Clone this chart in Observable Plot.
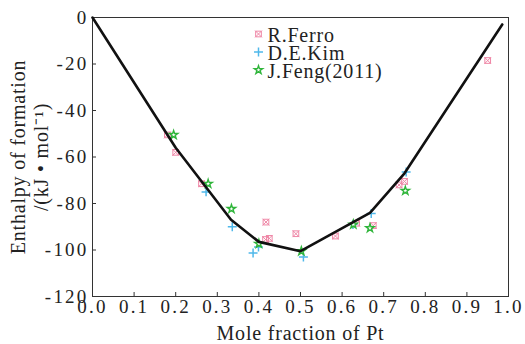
<!DOCTYPE html>
<html><head><meta charset="utf-8">
<script src="https://cdn.jsdelivr.net/npm/d3@7"></script>
<script src="https://cdn.jsdelivr.net/npm/@observablehq/plot@0.6"></script>
<style>
body{margin:0;background:#fff}
#chart svg, #chart svg text{font-family:"Liberation Serif","Times New Roman",serif !important}
#chart svg [aria-label="x-axis tick label"] text, #chart svg [aria-label="y-axis tick label"] text{letter-spacing:2.2px}
#chart svg .lbl text{letter-spacing:0.8px}
</style>
</head><body><div id="chart"></div>
<script>
// Calculated curve
const fitX = [0, 0.2, 0.333, 0.4, 0.5, 0.667, 0.75, 0.985];
const fitY = [0, -56, -87, -96.5, -100.5, -84, -67, -3];
// R.Ferro
const ferroX = [0.18, 0.2, 0.262, 0.417, 0.416, 0.425, 0.489, 0.584, 0.635, 0.675, 0.737, 0.75, 0.95];
const ferroY = [-50.5, -58, -71.5, -88, -95.5, -95, -93, -94, -88.5, -89.5, -72, -70.5, -18.5];
// D.E.Kim
const kimX = [0.273, 0.336, 0.386, 0.399, 0.507, 0.626, 0.67, 0.754];
const kimY = [-75, -90, -101.3, -98.7, -103, -89, -84.3, -66.5];
// J.Feng(2011)
const fengX = [0.195, 0.278, 0.334, 0.4, 0.502, 0.627, 0.667, 0.752];
const fengY = [-50.5, -71.5, -82.3, -97.3, -100.5, -89, -90.6, -74.5];
const seriesNames = ["R.Ferro", "D.E.Kim", "J.Feng(2011)"];
const xTicks = [0, 0.1, 0.2, 0.3, 0.4, 0.5, 0.6, 0.7, 0.8, 0.9, 1.0];
const yTicks = [0, -20, -40, -60, -80, -100, -120];
const xLabel = "Mole fraction of Pt";
const yLabel = "Enthalpy of formation\n/(kJ • mol⁻¹)";

const fit = fitX.map((x, i) => ({x, y: fitY[i]}));
const ferro = ferroX.map((x, i) => ({x, y: ferroY[i]}));
const kim = kimX.map((x, i) => ({x, y: kimY[i]}));
const feng = fengX.map((x, i) => ({x, y: fengY[i]}));

const pink = "#ef86a6", blue = "#4fb8ea", green = "#2fb53a";
const serif = "Liberation Serif";

const legendMarks = [];
const sym = [
  [{symbol: "square", stroke: pink, r: 3.2, strokeWidth: 1}, {symbol: "times", stroke: pink, r: 3.2, strokeWidth: 1}],
  [{symbol: "plus", stroke: blue, r: 3, strokeWidth: 1.5}],
  [{symbol: "star", stroke: green, fill: "white", r: 2.6, strokeWidth: 1.4}]
];
seriesNames.forEach((name, i) => {
  sym[i].forEach(s => legendMarks.push(Plot.dot([name], {frameAnchor: "top-left", dx: 166, dy: 16.5 + i * 18, ...s})));
  legendMarks.push(Plot.text([name], {frameAnchor: "top-left", dx: 175, dy: 18 + i * 18, text: d => d, textAnchor: "start", lineAnchor: "middle", fontSize: 20, fontFamily: serif, className: "lbl"}));
});

const chart = Plot.plot({
  width: 525, height: 344,
  marginLeft: 92, marginRight: 17, marginTop: 17, marginBottom: 48,
  style: "font-family: 'Liberation Serif', serif; font-size: 19px; background: #fff; color: #222;",
  x: {domain: [0, 1]},
  y: {domain: [-120, 0]},
  marks: [
    Plot.frame({stroke: "#333", strokeWidth: 1}),
    Plot.axisX({ticks: xTicks, tickFormat: d => d.toFixed(1), tickSize: 0, tickPadding: 3, label: null, fontSize: 19, fontFamily: serif}),
    Plot.axisX({ticks: xTicks.slice(1, -1), tickSize: -4, text: null, label: null, stroke: "#333"}),
    Plot.axisY({ticks: yTicks, tickFormat: d => String(d), tickSize: 0, tickPadding: 4, label: null, fontSize: 19, fontFamily: serif}),
    Plot.axisY({ticks: yTicks.slice(1, -1), tickSize: -4, text: null, label: null, stroke: "#333"}),
    Plot.text([xLabel], {frameAnchor: "bottom", dy: 43, text: d => d, textAnchor: "middle", lineAnchor: "bottom", fontSize: 20, fontFamily: serif, className: "lbl"}),
    Plot.text([yLabel], {frameAnchor: "left", dx: -63, text: d => d, rotate: -90, textAnchor: "middle", lineAnchor: "middle", lineHeight: 1.15, fontSize: 20, fontFamily: serif, className: "lbl"}),
    Plot.dot(ferro, {x: "x", y: "y", ...sym[0][0]}),
    Plot.dot(ferro, {x: "x", y: "y", ...sym[0][1]}),
    Plot.dot(kim, {x: "x", y: "y", ...sym[1][0]}),
    Plot.dot(feng, {x: "x", y: "y", ...sym[2][0]}),
    Plot.line(fit, {x: "x", y: "y", stroke: "#111", strokeWidth: 2.6}),
    ...legendMarks
  ]
});
document.getElementById("chart").append(chart);
</script>
</body></html>
